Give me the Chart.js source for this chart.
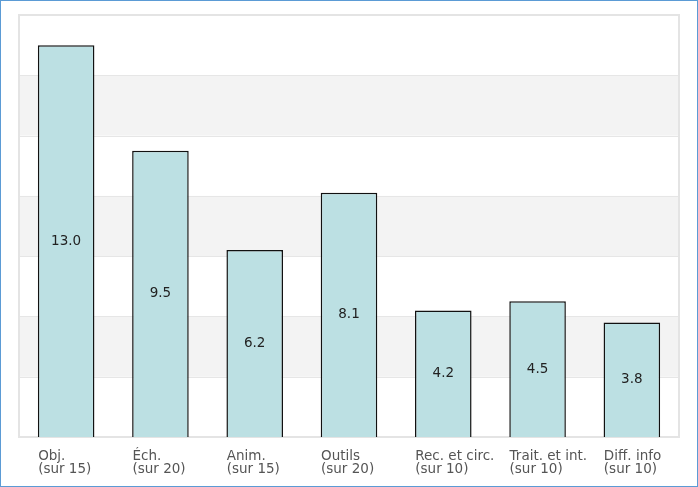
<!DOCTYPE html>
<html>
<head>
<meta charset="utf-8">
<script src="https://cdn.jsdelivr.net/npm/chart.js@4/dist/chart.umd.min.js"></script>
<style>
html,body{margin:0;padding:0;background:#fff;}
#wrap{width:698px;height:487px;box-sizing:border-box;border:1px solid #5b9bd5;}
canvas{display:block;}
</style>
</head>
<body>
<div id="wrap"><canvas id="scoreChart" width="696" height="485"></canvas></div>
<script>
const categories = [
  ['Obj.', '(sur 15)'],
  ['Éch.', '(sur 20)'],
  ['Anim.', '(sur 15)'],
  ['Outils', '(sur 20)'],
  ['Rec. et circ.', '(sur 10)'],
  ['Trait. et int.', '(sur 10)'],
  ['Diff. info', '(sur 10)']
];
const scores = [13.0, 9.5, 6.2, 8.1, 4.2, 4.5, 3.8];
const yTicks = [0, 2, 4, 6, 8, 10, 12, 14];

const font = 'DejaVu Sans';

// alternating bands + grid + frame behind the bars
const bandsPlugin = {
  id: 'bands',
  beforeDatasetsDraw(chart){
    const {ctx, chartArea: a, scales:{y}} = chart;
    ctx.save();
    for(let i=0;i<yTicks.length-1;i++){
      const top = y.getPixelForValue(yTicks[i+1]);
      const bot = y.getPixelForValue(yTicks[i]);
      if(i % 2 === 1){
        ctx.fillStyle = '#f3f3f3';
        ctx.fillRect(a.left, top, a.right-a.left, bot-top);
      }
    }
    ctx.strokeStyle = '#e6e6e6';
    ctx.lineWidth = 1;
    yTicks.forEach(v=>{
      const py = Math.round(y.getPixelForValue(v)) + 0.5;
      ctx.beginPath(); ctx.moveTo(a.left, py); ctx.lineTo(a.right, py); ctx.stroke();
    });
    ctx.lineWidth = 2;
    ctx.strokeStyle = '#e4e4e4';
    ctx.strokeRect(a.left, a.top, a.right-a.left, a.bottom-a.top);
    ctx.restore();
  }
};

// value in the middle of each bar
const valuePlugin = {
  id: 'values',
  afterDatasetsDraw(chart){
    const {ctx} = chart;
    const meta = chart.getDatasetMeta(0);
    ctx.save();
    ctx.font = '13.5px "' + font + '"';
    ctx.fillStyle = '#222';
    ctx.textAlign = 'center';
    ctx.textBaseline = 'middle';
    meta.data.forEach((bar, i)=>{
      ctx.fillText(scores[i].toFixed(1), bar.x, (bar.y + bar.base)/2);
    });
    ctx.restore();
  }
};

new Chart(document.getElementById('scoreChart'), {
  type: 'bar',
  data: {
    labels: categories,
    datasets: [{
      data: scores,
      backgroundColor: '#bce0e3',
      borderColor: '#111',
      borderWidth: 1.5,
      categoryPercentage: 0.6,
      barPercentage: 1
    }]
  },
  options: {
    responsive: false,
    animation: false,
    layout: { padding: { left: 18, right: 18, top: 14, bottom: 0 } },
    plugins: { legend: { display: false }, tooltip: { enabled: false } },
    scales: {
      x: {
        grid: { display: false, drawTicks: false },
        border: { display: false },
        ticks: {
          align: 'start',
          labelOffset: -28,
          padding: 13,
          maxRotation: 0,
          autoSkip: false,
          color: '#555',
          font: { family: font, size: 13.5, lineHeight: '13px' }
        },
        afterFit(scale){ scale.paddingLeft = 0; scale.paddingRight = 0; scale.height = 49; }
      },
      y: {
        display: false,
        min: 0,
        max: 14
      }
    }
  },
  plugins: [bandsPlugin, valuePlugin]
});
</script>
</body>
</html>
